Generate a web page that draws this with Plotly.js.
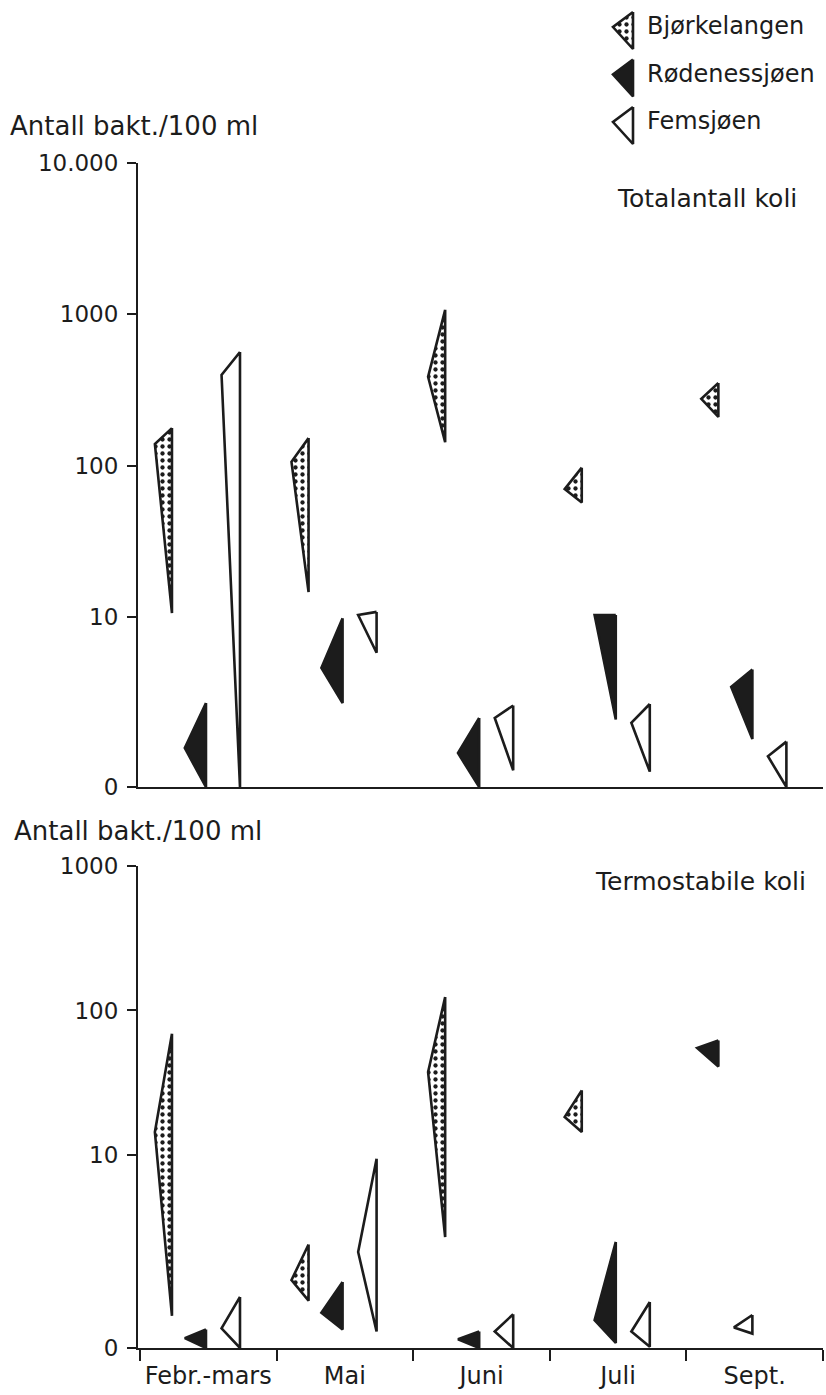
<!DOCTYPE html>
<html>
<head>
<meta charset="utf-8">
<script src="https://cdn.plot.ly/plotly-3.0.1.min.js"></script>
<style>html,body{margin:0;padding:0;background:#fff;}#chart{width:826px;height:1395px;}</style>
</head>
<body>
<div id="chart"></div>
<script>
// ---------- DATA ----------
const months = ["Febr.-mars", "Mai", "Juni", "Juli", "Sept."];
const seriesNames = ["Bjørkelangen", "Rødenessjøen", "Femsjøen"];

// Totalantall koli (bakt./100 ml) : max, middel, min per month
const bjorkTotMax  = [177, 152, 1070, 97, 352];
const bjorkTotMean = [139, 106, 386, 70, 276];
const bjorkTotMin  = [10.6, 14.6, 143, 57, 210];
const rodTotMax    = [2.7, 9.8, 2.15, 10.3, 4.5];
const rodTotMean   = [1.36, 4.6, 1.26, 10.3, 3.45];
const rodTotMin    = [0, 2.7, 0, 2.1, 1.56];
const femTotMax    = [564, 10.8, 2.6, 2.66, 1.5];
const femTotMean   = [397, 10.3, 2.15, 2.0, 1.2];
const femTotMin    = [0, 5.8, 0.97, 0.95, 0];

// Termostabile koli (bakt./100 ml)
const bjorkTsMax  = [69, 2.4, 124, 28, null];
const bjorkTsMean = [14.4, 1.36, 37.5, 18.3, null];
const bjorkTsMin  = [0.77, 0.98, 2.7, 14.4, null];
const rodTsMax    = [0.62, 1.32, 0.60, 2.5, 62];
const rodTsMean   = [0.54, 0.81, 0.53, 0.72, 55];
const rodTsMin    = [0, 0.62, 0, 0.50, 41];
const femTsMax    = [1.04, 9.4, 0.79, 0.96, 0.78];
const femTsMean   = [0.63, 2.13, 0.60, 0.60, 0.64];
const femTsMin    = [0, 0.60, 0, 0.47, 0.58];

const topTickVals = [0, 10, 100, 1000, 10000];
const topTickText = ["0", "10", "100", "1000", "10.000"];
const botTickVals = [0, 10, 100, 1000];
const botTickText = ["0", "10", "100", "1000"];

// ---------- STYLE / LAYOUT CONSTANTS ----------
const W = 826, H = 1395;
const INK = "#1c1c1c";
const FONT = "DejaVu Sans, Verdana, sans-serif";
const ZERO_TOP = 0.752;   // where the "0" baseline sits on the top log axis
const ZERO_BOT = 0.461;   // where the "0" baseline sits on the bottom log axis
const SLOT_BASE = 0.234, SLOT_STEP = 0.249;
const APEX_W = [0.125, 0.155, 0.135];
const LINE_W = 2.6;
const fills = [
  {fill: "toself", fillcolor: "white",
   fillpattern: {shape: ".", fgcolor: INK, bgcolor: "white", size: 7, solidity: 0.3}},
  {fill: "toself", fillcolor: INK},
  {fill: "toself", fillcolor: "white"}
];

function px2paperY(p) { return 1 - p / H; }
function px2paperX(p) { return p / W; }

function panelTraces(sets, zero, xa, ya) {
  const traces = [];
  sets.forEach((s, si) => {
    const xs = [], ys = [];
    months.forEach((m, k) => {
      if (s.max[k] == null) return;
      let slot = 0;
      for (let j = 0; j < si; j++) if (sets[j].max[k] != null) slot++;
      const xr = k + SLOT_BASE + SLOT_STEP * slot;
      const f = v => (v <= 0 ? zero : v);
      xs.push(xr, xr, xr - APEX_W[si], xr, null);
      ys.push(f(s.max[k]), f(s.min[k]), f(s.mean[k]), f(s.max[k]), null);
    });
    traces.push(Object.assign({
      type: "scatter", mode: "lines", x: xs, y: ys, xaxis: xa, yaxis: ya,
      name: seriesNames[si], showlegend: false, hoverinfo: "skip",
      line: {color: INK, width: LINE_W}
    }, fills[si]));
  });
  return traces;
}

const topSets = [
  {max: bjorkTotMax, mean: bjorkTotMean, min: bjorkTotMin},
  {max: rodTotMax, mean: rodTotMean, min: rodTotMin},
  {max: femTotMax, mean: femTotMean, min: femTotMin}
];
const botSets = [
  {max: bjorkTsMax, mean: bjorkTsMean, min: bjorkTsMin},
  {max: rodTsMax, mean: rodTsMean, min: rodTsMin},
  {max: femTsMax, mean: femTsMean, min: femTsMin}
];

let data = [].concat(
  panelTraces(topSets, ZERO_TOP, "x", "y"),
  panelTraces(botSets, ZERO_BOT, "x2", "y2")
);

// ---------- custom legend (drawn on a page-pixel overlay axis) ----------
const LEG = {xr: 633, w: 20, top0: 12, step: 47.5, h: 37, apex: 15, textX: 645};
seriesNames.forEach((n, i) => {
  const t = LEG.top0 + LEG.step * i;
  data.push(Object.assign({
    type: "scatter", mode: "lines", xaxis: "x3", yaxis: "y3",
    x: [LEG.xr, LEG.xr, LEG.xr - LEG.w, LEG.xr],
    y: [t, t + LEG.h, t + LEG.apex, t],
    showlegend: false, hoverinfo: "skip",
    line: {color: INK, width: LINE_W}
  }, fills[i]));
});

const xDomain = [px2paperX(138), px2paperX(823)];
const xRange = [-2 / 137, 5];

const tickFont = {family: FONT, size: 23, color: INK};

const layout = {
  width: W, height: H,
  margin: {l: 0, r: 0, t: 0, b: 0},
  paper_bgcolor: "white", plot_bgcolor: "rgba(0,0,0,0)",
  showlegend: false,
  font: {family: FONT, color: INK},
  xaxis: {
    domain: xDomain, range: xRange, anchor: "y",
    showline: true, linecolor: INK, linewidth: 2,
    showticklabels: false, ticks: "", showgrid: false, zeroline: false
  },
  yaxis: {
    domain: [px2paperY(787), px2paperY(163)], anchor: "x",
    type: "log", range: [Math.log10(ZERO_TOP), 4],
    tickmode: "array",
    tickvals: topTickVals.map(v => v === 0 ? ZERO_TOP : v), ticktext: topTickText,
    ticks: "outside", ticklen: 9, tickwidth: 2, tickcolor: INK,
    showline: true, linecolor: INK, linewidth: 2,
    showgrid: false, zeroline: false, tickfont: tickFont, ticklabelstandoff: 4
  },
  xaxis2: {
    domain: xDomain, range: xRange, anchor: "y2",
    showline: true, linecolor: INK, linewidth: 2,
    tickmode: "array", tickvals: months.map((m, k) => k + 0.5), ticktext: months,
    ticks: "", tickfont: {family: FONT, size: 24, color: INK}, ticklabelstandoff: 5,
    minor: {tickmode: "linear", tick0: 0, dtick: 1, ticks: "outside", ticklen: 11, tickwidth: 2, tickcolor: INK},
    showgrid: false, zeroline: false
  },
  yaxis2: {
    domain: [px2paperY(1348), px2paperY(866)], anchor: "x2",
    type: "log", range: [Math.log10(ZERO_BOT), 3],
    tickmode: "array",
    tickvals: botTickVals.map(v => v === 0 ? ZERO_BOT : v), ticktext: botTickText,
    ticks: "outside", ticklen: 9, tickwidth: 2, tickcolor: INK,
    showline: true, linecolor: INK, linewidth: 2,
    showgrid: false, zeroline: false, tickfont: tickFont, ticklabelstandoff: 4
  },
  xaxis3: {domain: [0, 1], range: [0, W], anchor: "y3", visible: false, fixedrange: true},
  yaxis3: {domain: [0, 1], range: [H, 0], anchor: "x3", visible: false, fixedrange: true},
  annotations: [
    {text: "Antall bakt./100 ml", xref: "paper", yref: "paper", x: px2paperX(8), y: px2paperY(126),
     xanchor: "left", yanchor: "middle", showarrow: false, font: {family: FONT, size: 26, color: INK}},
    {text: "Antall bakt./100 ml", xref: "paper", yref: "paper", x: px2paperX(12), y: px2paperY(831),
     xanchor: "left", yanchor: "middle", showarrow: false, font: {family: FONT, size: 26, color: INK}},
    {text: "Totalantall koli", xref: "paper", yref: "paper", x: px2paperX(799), y: px2paperY(198),
     xanchor: "right", yanchor: "middle", showarrow: false, font: {family: FONT, size: 25, color: INK}},
    {text: "Termostabile koli", xref: "paper", yref: "paper", x: px2paperX(808), y: px2paperY(882),
     xanchor: "right", yanchor: "middle", showarrow: false, font: {family: FONT, size: 25, color: INK}}
  ].concat(seriesNames.map((n, i) => ({
    text: n, xref: "paper", yref: "paper",
    x: px2paperX(LEG.textX), y: px2paperY(LEG.top0 + LEG.step * i + 14),
    xanchor: "left", yanchor: "middle", showarrow: false,
    font: {family: FONT, size: 24, color: INK}
  })))
};

Plotly.newPlot("chart", data, layout, {staticPlot: true, displayModeBar: false});
</script>
</body>
</html>
